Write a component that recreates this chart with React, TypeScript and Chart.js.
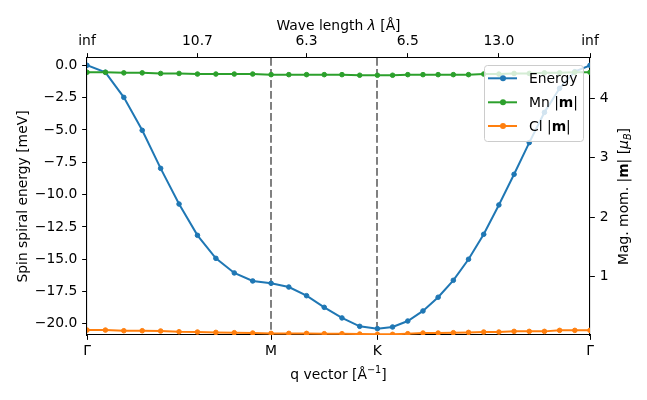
import React, { useEffect, useRef } from "react";
import { Chart, registerables } from "chart.js";

Chart.register(...registerables);

// ---- data ----
const qPath = [
  0, 0.0866, 0.1732, 0.2598, 0.3464, 0.433, 0.5196, 0.6062, 0.6928, 0.7794, 0.866,
  0.9493, 1.0327, 1.116, 1.1993, 1.2827, 1.366,
  1.4374, 1.5089, 1.5803, 1.6517, 1.7231, 1.7946, 1.866, 1.9374, 2.0089, 2.0803,
  2.1517, 2.2231, 2.2946, 2.366,
];
const energy = [
  0.0, -0.54, -2.48, -5.03, -7.97, -10.73, -13.15, -14.93, -16.06, -16.68, -16.86,
  -17.15, -17.82, -18.72, -19.54, -20.19, -20.37,
  -20.24, -19.78, -19.0, -17.94, -16.63, -15.0, -13.07, -10.8, -8.43, -5.98,
  -3.64, -1.78, -0.49, 0.0,
];
const mnMoment = [
  4.44, 4.44, 4.43, 4.43, 4.42, 4.42, 4.41, 4.41, 4.41, 4.41, 4.4,
  4.4, 4.4, 4.4, 4.4, 4.39, 4.39,
  4.39, 4.4, 4.4, 4.4, 4.4, 4.4, 4.41, 4.41, 4.42, 4.42,
  4.43, 4.43, 4.44, 4.44,
];
const clMoment = [
  0.103, 0.103, 0.092, 0.092, 0.087, 0.075, 0.07, 0.064, 0.059, 0.053, 0.047,
  0.047, 0.047, 0.042, 0.042, 0.036, 0.031,
  0.031, 0.042, 0.053, 0.053, 0.059, 0.064, 0.07, 0.07, 0.081, 0.081,
  0.081, 0.098, 0.098, 0.098,
];
const qTickPos = [0, 0.866, 1.366, 2.366];
const qTickLabels = ["Γ", "M", "K", "Γ"];
const lambdaTickPos = [0, 0.5196, 1.0327, 1.5089, 1.9374, 2.366];
const lambdaTickLabels = ["inf", "10.7", "6.3", "6.5", "13.0", "inf"];
const energyTicks = [-20, -17.5, -15, -12.5, -10, -7.5, -5, -2.5, 0];
const momentTicks = [1, 2, 3, 4];
const dashedLinePos = [0.866, 1.366];
const seriesNames = ["Energy", "Mn", "Cl"];
const seriesColors = ["#1f77b4", "#2ca02c", "#ff7f0e"];

// ---- text helpers ----
const FS = 13.89;
const FAM = "'DejaVu Sans'";
type Seg = { t: string; s?: "b" | "i" | "isub" | "sup" };

function segFont(seg: Seg) {
  switch (seg.s) {
    case "b": return `bold ${FS}px ${FAM}`;
    case "i": return `italic ${FS}px ${FAM}`;
    case "isub": return `italic ${FS * 0.7}px ${FAM}`;
    case "sup": return `${FS * 0.7}px ${FAM}`;
    default: return `${FS}px ${FAM}`;
  }
}

function drawSegs(ctx: CanvasRenderingContext2D, segs: Seg[], x: number, y: number, angle: number, align: "center" | "left") {
  ctx.save();
  ctx.translate(x, y);
  ctx.rotate(angle);
  let total = 0;
  const widths = segs.map((sg) => {
    ctx.font = segFont(sg);
    const w = ctx.measureText(sg.t).width;
    total += w;
    return w;
  });
  let cx = align === "center" ? -total / 2 : 0;
  const base = FS * 0.36;
  ctx.fillStyle = "#000";
  ctx.textAlign = "left";
  ctx.textBaseline = "alphabetic";
  segs.forEach((sg, i) => {
    ctx.font = segFont(sg);
    let dy = base;
    if (sg.s === "isub") dy = base + FS * 0.22;
    if (sg.s === "sup") dy = base - FS * 0.42;
    ctx.fillText(sg.t, cx, dy);
    cx += widths[i];
  });
  ctx.restore();
}

const leftTitle: Seg[] = [{ t: "Spin spiral energy [meV]" }];
const rightTitle: Seg[] = [{ t: "Mag. mom. |" }, { t: "m", s: "b" }, { t: "| [" }, { t: "μ", s: "i" }, { t: "B", s: "isub" }, { t: "]" }];
const bottomTitle: Seg[] = [{ t: "q vector [Å" }, { t: "−1", s: "sup" }, { t: "]" }];
const topTitle: Seg[] = [{ t: "Wave length " }, { t: "λ", s: "i" }, { t: " [Å]" }];
const legendTexts: Seg[][] = [
  [{ t: seriesNames[0] }],
  [{ t: seriesNames[1] + " |" }, { t: "m", s: "b" }, { t: "|" }],
  [{ t: seriesNames[2] + " |" }, { t: "m", s: "b" }, { t: "|" }],
];

const decorPlugin = {
  id: "decor",
  beforeDatasetsDraw(chart: any) {
    const { ctx, chartArea, scales } = chart;
    ctx.save();
    ctx.strokeStyle = "#808080";
    ctx.lineWidth = 2;
    ctx.setLineDash([7.7, 3.3]);
    dashedLinePos.forEach((v) => {
      const px = Math.round(scales.x.getPixelForValue(v));
      ctx.beginPath();
      ctx.moveTo(px, chartArea.top);
      ctx.lineTo(px, chartArea.bottom);
      ctx.stroke();
    });
    ctx.restore();
  },
  afterDatasetsDraw(chart: any) {
    const { ctx, chartArea } = chart;
    // legend
    const w = 99, h = 76;
    const bx = chartArea.right - 7 - w;
    const by = chartArea.top + 7;
    ctx.save();
    ctx.beginPath();
    ctx.roundRect(bx + 0.5, by + 0.5, w, h, 3);
    ctx.fillStyle = "rgba(255,255,255,0.8)";
    ctx.fill();
    ctx.strokeStyle = "#cccccc";
    ctx.lineWidth = 1;
    ctx.stroke();
    const rows = [13.3, 37.3, 61];
    rows.forEach((ry, i) => {
      const yy = by + ry;
      ctx.strokeStyle = seriesColors[i];
      ctx.lineWidth = 2;
      ctx.beginPath();
      ctx.moveTo(bx + 4, yy);
      ctx.lineTo(bx + 33, yy);
      ctx.stroke();
      ctx.fillStyle = seriesColors[i];
      ctx.beginPath();
      ctx.arc(bx + 19, yy, 3, 0, Math.PI * 2);
      ctx.fill();
      drawSegs(ctx, legendTexts[i], bx + 45, yy, 0, "left");
    });
    ctx.restore();
  },
  afterDraw(chart: any) {
    const { ctx, chartArea } = chart;
    const cxm = (chartArea.left + chartArea.right) / 2;
    const cym = (chartArea.top + chartArea.bottom) / 2;
    drawSegs(ctx, leftTitle, 21.5, cym, -Math.PI / 2, "center");
    drawSegs(ctx, rightTitle, 623, cym, -Math.PI / 2, "center");
    drawSegs(ctx, bottomTitle, cxm, 374, 0, "center");
    drawSegs(ctx, topTitle, cxm, 25, 0, "center");
  },
};

const tickFont = { family: "DejaVu Sans", size: FS };
const gridCfg = { drawOnChartArea: false, drawTicks: true, tickLength: 4.86, tickColor: "#000", tickWidth: 1 };
const borderCfg = { display: true, color: "#000", width: 1.1 };

export default function App() {
  const ref = useRef<HTMLCanvasElement>(null);
  useEffect(() => {
    document.body.style.margin = "0";
    const mk = (arr: number[]) => qPath.map((q, i) => ({ x: q, y: arr[i] }));
    const ds = (i: number, arr: number[], axis: string, order: number) => ({
      label: seriesNames[i],
      data: mk(arr),
      yAxisID: axis,
      xAxisID: "x",
      borderColor: seriesColors[i],
      backgroundColor: seriesColors[i],
      pointBackgroundColor: seriesColors[i],
      pointBorderColor: seriesColors[i],
      borderWidth: 2,
      pointRadius: 2.3,
      pointBorderWidth: 1,
      tension: 0,
      order,
    });
    const chart = new Chart(ref.current!, {
      type: "line",
      data: {
        datasets: [ds(0, energy, "y", 2), ds(1, mnMoment, "y2", 1), ds(2, clMoment, "y2", 1)],
      },
      plugins: [decorPlugin],
      options: {
        animation: false,
        responsive: true,
        maintainAspectRatio: false,
        layout: { padding: 0 },
        plugins: { legend: { display: false }, tooltip: { enabled: false } },
        scales: {
          x: {
            type: "linear", position: "bottom", min: 0, max: 2.366,
            afterBuildTicks: (s: any) => { s.ticks = qTickPos.map((v) => ({ value: v })); },
            afterFit: (s: any) => { s.height = 65; },
            ticks: { font: tickFont, color: "#000", padding: 3, autoSkip: false, maxRotation: 0, callback: (_v: any, i: number) => qTickLabels[i] },
            grid: gridCfg, border: borderCfg,
          },
          x2: {
            type: "linear", position: "top", min: 0, max: 2.366,
            afterBuildTicks: (s: any) => { s.ticks = lambdaTickPos.map((v) => ({ value: v })); },
            afterFit: (s: any) => { s.height = 58; },
            ticks: { font: tickFont, color: "#000", padding: 3, autoSkip: false, maxRotation: 0, callback: (_v: any, i: number) => lambdaTickLabels[i] },
            grid: gridCfg, border: borderCfg,
          },
          y: {
            type: "linear", position: "left", min: -20.86, max: 0.565,
            afterBuildTicks: (s: any) => { s.ticks = energyTicks.map((v) => ({ value: v })); },
            afterFit: (s: any) => { s.width = 87; },
            ticks: { font: tickFont, color: "#000", padding: 4.86, callback: (v: any) => (v < 0 ? "−" : "") + Math.abs(v).toFixed(1) },
            grid: gridCfg, border: borderCfg,
          },
          y2: {
            type: "linear", position: "right", min: 0.02, max: 4.68,
            afterBuildTicks: (s: any) => { s.ticks = momentTicks.map((v) => ({ value: v })); },
            afterFit: (s: any) => { s.width = 57; },
            ticks: { font: tickFont, color: "#000", padding: 4.86, callback: (v: any) => String(v) },
            grid: gridCfg, border: borderCfg,
          },
        },
      } as any,
    });
    return () => chart.destroy();
  }, []);
  return (
    <div style={{ position: "fixed", left: 0, top: 0, width: 647, height: 400, background: "#fff" }}>
      <canvas ref={ref} />
    </div>
  );
}
